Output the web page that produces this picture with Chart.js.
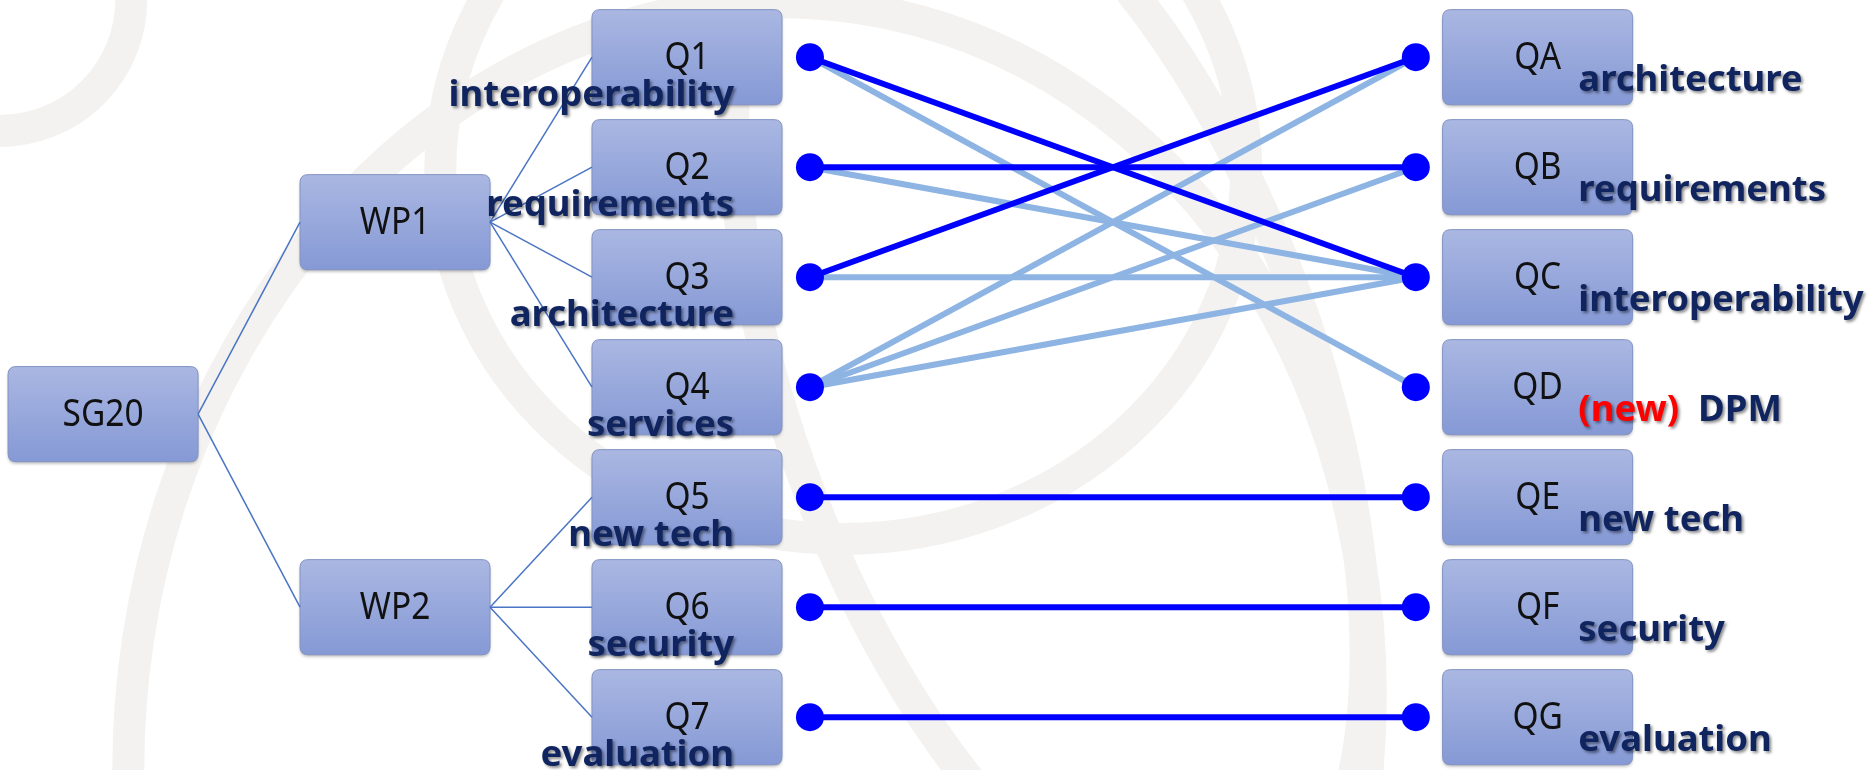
<!DOCTYPE html>
<html>
<head>
<meta charset="utf-8">
<title>SG20 questions</title>
<script src="https://cdn.jsdelivr.net/npm/chart.js@4.4.1/dist/chart.umd.min.js"></script>
<style>
  html, body { margin: 0; padding: 0; background: #fff; }
  canvas { display: block; }
</style>
</head>
<body>
<canvas id="graf_SG20" width="1874" height="770"></canvas>
<script>
// --- data ---
const groups = ['SG20', 'WP1', 'WP2'];
const groupRows = [4.245, 2.5, 6];
const wp1Questions = ['Q1', 'Q2', 'Q3', 'Q4'];
const wp2Questions = ['Q5', 'Q6', 'Q7'];

const oldQuestions = ['Q1', 'Q2', 'Q3', 'Q4', 'Q5', 'Q6', 'Q7'];
const oldTopics = ['interoperability', 'requirements', 'architecture', 'services', 'new tech', 'security', 'evaluation'];

const newQuestions = ['QA', 'QB', 'QC', 'QD', 'QE', 'QF', 'QG'];
const newTopics = ['architecture', 'requirements', 'interoperability', 'DPM', 'new tech', 'security', 'evaluation'];
const newTags = ['', '', '', '(new)', '', '', ''];

const strongLinks = [['Q1', 'QC'], ['Q2', 'QB'], ['Q3', 'QA'], ['Q5', 'QE'], ['Q6', 'QF'], ['Q7', 'QG']];
const weakLinks = [['Q1', 'QD'], ['Q2', 'QC'], ['Q3', 'QC'], ['Q4', 'QA'], ['Q4', 'QB'], ['Q4', 'QC']];

// --- layout (axis units) ---
const colSG = 5.5, colWP = 21.08, colQ = 36.66, colDotL = 43.22, colDotR = 75.55, colQR = 82.05;
const boxW = 10.14, boxH = 0.865;
const leftLabelX = 39.17, rightLabelX = 84.22;

const rowOf = q => oldQuestions.indexOf(q) + 1;
const rowOfNew = q => newQuestions.indexOf(q) + 1;

const boxes = [];
groups.forEach((g, i) => boxes.push({ text: g, x: i === 0 ? colSG : colWP, y: groupRows[i] }));
oldQuestions.forEach((q, i) => boxes.push({ text: q, x: colQ, y: i + 1 }));
newQuestions.forEach((q, i) => boxes.push({ text: q, x: colQR, y: i + 1 }));

let datasets = [];

datasets.push({
  label: 'dots',
  data: oldQuestions.map((q, i) => ({ x: colDotL, y: i + 1 }))
    .concat(newQuestions.map((q, i) => ({ x: colDotR, y: i + 1 }))),
  showLine: false,
  pointRadius: 14,
  pointBackgroundColor: '#0000ff',
  pointBorderWidth: 0,
  order: 0
});

strongLinks.forEach(l => datasets.push({
  data: [{ x: colDotL, y: rowOf(l[0]) }, { x: colDotR, y: rowOfNew(l[1]) }],
  showLine: true, borderColor: '#0000ff', borderWidth: 6, pointRadius: 0, order: 1
}));

weakLinks.forEach(l => datasets.push({
  data: [{ x: colDotL, y: rowOf(l[0]) }, { x: colDotR, y: rowOfNew(l[1]) }],
  showLine: true, borderColor: '#8db4e2', borderWidth: 6, pointRadius: 0, order: 2
}));

let treeEdges = [];
treeEdges.push([{ x: colSG + boxW / 2, y: groupRows[0] }, { x: colWP - boxW / 2, y: groupRows[1] }]);
treeEdges.push([{ x: colSG + boxW / 2, y: groupRows[0] }, { x: colWP - boxW / 2, y: groupRows[2] }]);
wp1Questions.forEach(q => treeEdges.push([{ x: colWP + boxW / 2, y: groupRows[1] }, { x: colQ - boxW / 2, y: rowOf(q) }]));
wp2Questions.forEach(q => treeEdges.push([{ x: colWP + boxW / 2, y: groupRows[2] }, { x: colQ - boxW / 2, y: rowOf(q) }]));
treeEdges.forEach(e => datasets.push({
  data: e, showLine: true, borderColor: '#4a74c4', borderWidth: 1.5, pointRadius: 0, order: 3
}));

function roundRect(ctx, x, y, w, h, r) {
  ctx.beginPath();
  ctx.moveTo(x + r, y);
  ctx.lineTo(x + w - r, y);
  ctx.quadraticCurveTo(x + w, y, x + w, y + r);
  ctx.lineTo(x + w, y + h - r);
  ctx.quadraticCurveTo(x + w, y + h, x + w - r, y + h);
  ctx.lineTo(x + r, y + h);
  ctx.quadraticCurveTo(x, y + h, x, y + h - r);
  ctx.lineTo(x, y + r);
  ctx.quadraticCurveTo(x, y, x + r, y);
  ctx.closePath();
}

// faint globe watermark behind everything
const watermark = {
  id: 'watermark',
  beforeDraw(chart) {
    const ctx = chart.ctx;
    const w = chart.width, h = chart.height;
    ctx.save();
    ctx.fillStyle = '#fff';
    ctx.fillRect(0, 0, w, h);
    ctx.strokeStyle = '#f3f2f0';
    ctx.lineWidth = 32;
    ctx.beginPath();
    ctx.ellipse(w * 0.45, h * 0.22, w * 0.215, h * 0.48, 0, 0, Math.PI * 2);
    ctx.stroke();
    ctx.beginPath();
    ctx.ellipse(w * 0.40, h * 0.95, w * 0.33, h * 0.95, 0.15, 0, Math.PI * 2);
    ctx.stroke();
    ctx.beginPath();
    ctx.ellipse(w * 0.56, h * 0.50, w * 0.14, h * 0.75, -0.35, 0, Math.PI * 2);
    ctx.stroke();
    ctx.beginPath();
    ctx.ellipse(w * 0.0, h * 0.0, w * 0.07, h * 0.17, 0, 0, Math.PI * 2);
    ctx.stroke();
    ctx.restore();
  }
};

const nodeBoxes = {
  id: 'nodeBoxes',
  beforeDatasetsDraw(chart) {
    const ctx = chart.ctx, sx = chart.scales.x, sy = chart.scales.y;
    ctx.save();
    boxes.forEach(b => {
      const x0 = sx.getPixelForValue(b.x - boxW / 2), x1 = sx.getPixelForValue(b.x + boxW / 2);
      const y0 = sy.getPixelForValue(b.y - boxH / 2), y1 = sy.getPixelForValue(b.y + boxH / 2);
      const g = ctx.createLinearGradient(0, y0, 0, y1);
      g.addColorStop(0, '#aab7e2');
      g.addColorStop(1, '#8599d5');
      ctx.shadowColor = 'rgba(0,0,0,0.25)';
      ctx.shadowBlur = 3;
      ctx.shadowOffsetY = 2;
      roundRect(ctx, x0, y0, x1 - x0, y1 - y0, 8);
      ctx.fillStyle = g;
      ctx.fill();
      ctx.shadowColor = 'transparent';
      ctx.strokeStyle = '#8393c3';
      ctx.lineWidth = 1;
      ctx.stroke();
      // condensed text like the original font
      ctx.save();
      ctx.translate((x0 + x1) / 2, (y0 + y1) / 2 + 1);
      ctx.scale(0.88, 1);
      ctx.fillStyle = '#111';
      ctx.font = '38px "Noto Sans"';
      ctx.textAlign = 'center';
      ctx.textBaseline = 'middle';
      ctx.fillText(b.text, 0, 0);
      ctx.restore();
    });
    ctx.restore();
  }
};

const topicLabels = {
  id: 'topicLabels',
  afterDatasetsDraw(chart) {
    const ctx = chart.ctx, sx = chart.scales.x, sy = chart.scales.y;
    ctx.save();
    ctx.font = 'bold 36.5px "Noto Sans"';
    ctx.textBaseline = 'alphabetic';
    ctx.shadowColor = 'rgba(0,0,0,0.45)';
    ctx.shadowBlur = 3;
    ctx.shadowOffsetX = 2;
    ctx.shadowOffsetY = 2;
    ctx.textAlign = 'right';
    oldTopics.forEach((t, i) => {
      ctx.fillStyle = '#10245f';
      ctx.fillText(t, sx.getPixelForValue(leftLabelX), sy.getPixelForValue(i + 1 + 0.44));
    });
    ctx.textAlign = 'left';
    newTopics.forEach((t, i) => {
      let x = sx.getPixelForValue(rightLabelX);
      const y = sy.getPixelForValue(i + 1 + 0.31);
      if (newTags[i]) {
        ctx.fillStyle = '#ff0000';
        ctx.fillText(newTags[i], x, y);
        x += ctx.measureText(newTags[i] + '  ').width;
      }
      ctx.fillStyle = '#10245f';
      ctx.fillText(t, x, y);
    });
    ctx.restore();
  }
};

new Chart(document.getElementById('graf_SG20'), {
  type: 'scatter',
  data: { datasets: datasets },
  options: {
    responsive: false,
    animation: false,
    layout: { padding: 0, autoPadding: false },
    scales: {
      x: { type: 'linear', min: 0, max: 100, display: false },
      y: { type: 'linear', min: 0.48, max: 7.48, reverse: true, display: false }
    },
    plugins: {
      legend: { display: false },
      tooltip: { enabled: false }
    }
  },
  plugins: [watermark, nodeBoxes, topicLabels]
});
</script>
</body>
</html>
